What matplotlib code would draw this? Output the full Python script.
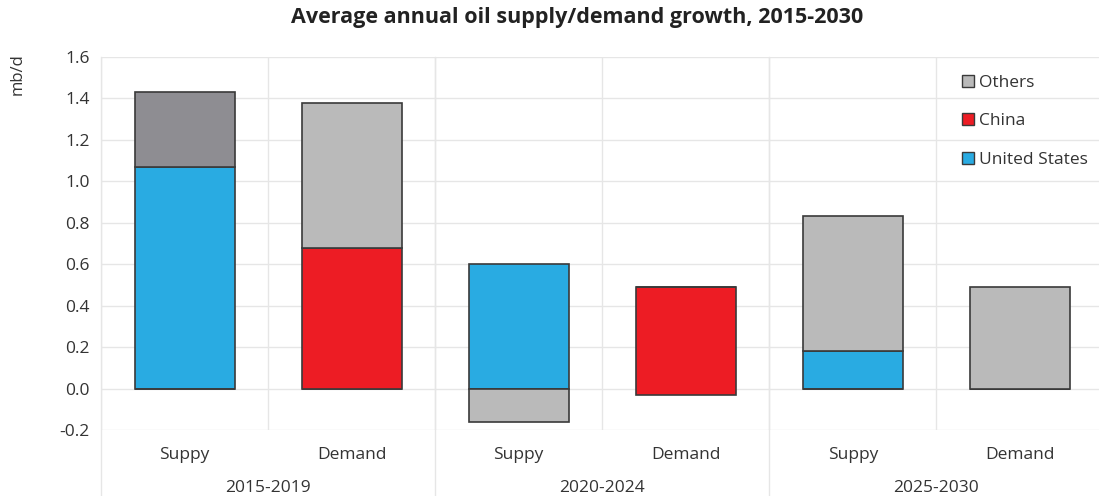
import matplotlib.pyplot as plt
import numpy as np
from matplotlib.lines import Line2D
from matplotlib.patches import Patch

plt.rcParams['font.family'] = ['Open Sans', 'DejaVu Sans']

# values in mb/d
categories = ['Suppy', 'Demand', 'Suppy', 'Demand', 'Suppy', 'Demand']
periods = ['2015-2019', '2020-2024', '2025-2030']
united_states = [1.07, 0.0, 0.60, 0.0, 0.18, 0.0]
china = [0.0, 0.68, 0.0, 0.52, 0.0, 0.0]
china_low = [0.0, 0.0, 0.0, -0.03, 0.0, 0.0]   # China demand bar dips slightly below zero
others = [0.36, 0.70, -0.16, 0.0, 0.655, 0.49]

blue = '#29abe2'
red = '#ed1c24'
grey = '#bababa'
dark_grey = '#8e8d92'
edge = '#3a3a3a'
text_col = '#333333'

fig = plt.figure(figsize=(10.99, 4.96), dpi=100)
ax = fig.add_axes([0.092, 0.133, 0.912, 0.752])

x = np.arange(len(categories))
w = 0.6

us = np.array(united_states)
ch = np.array(china)
oth = np.array(others)
low = np.array(china_low)

ax.bar(x, us, w, color=blue, edgecolor=edge, linewidth=1.2, zorder=3)
ax.bar(x, ch, w, bottom=low, color=red, edgecolor=edge, linewidth=1.2, zorder=3)
pos_base = us + ch + low
others_colors = [dark_grey] + [grey] * (len(categories) - 1)
bottoms = np.where(oth >= 0, pos_base, 0)
ax.bar(x, oth, w, bottom=bottoms, color=others_colors, edgecolor=edge, linewidth=1.2, zorder=3)

ax.set_xlim(-0.5, len(categories) - 0.5)
ax.set_ylim(-0.2, 1.6)
ax.set_yticks(np.arange(-0.2, 1.61, 0.2))
ax.set_yticklabels(['%.1f' % v for v in np.arange(-0.2, 1.61, 0.2)])
ax.set_xticks(x)
ax.set_xticklabels(categories)
ax.set_xticks(np.arange(-0.5, len(categories), 1), minor=True)

ax.tick_params(axis='both', length=0, labelsize=12.5, colors=text_col, pad=8)
ax.tick_params(axis='x', which='both', length=0, pad=12)
ax.grid(axis='y', color='#e6e6e6', linewidth=1, zorder=0)
ax.grid(axis='x', which='minor', color='#e6e6e6', linewidth=1, zorder=0)
ax.grid(axis='x', which='major', visible=False)
for s in ax.spines.values():
    s.set_visible(False)

# group separators running down through the labels
for b in [-0.5, 1.5, 3.5]:
    ax.add_line(Line2D([b, b], [-0.18, 1], transform=ax.get_xaxis_transform(),
                       color='#e6e6e6', linewidth=1, clip_on=False))
for i, p in enumerate(periods):
    ax.text(2 * i + 0.5, -0.155, p, transform=ax.get_xaxis_transform(),
            ha='center', va='center', fontsize=12.5, color=text_col)

ax.set_ylabel('mb/d', fontsize=12, color=text_col, loc='top')
ax.yaxis.set_label_coords(-0.075, 1.01)

fig.suptitle('Average annual oil supply/demand growth, 2015-2030',
             x=0.525, y=0.985, fontsize=15.5, fontweight='bold', color='#222222')

handles = [Patch(facecolor=grey, edgecolor=edge, label='Others'),
           Patch(facecolor=red, edgecolor=edge, label='China'),
           Patch(facecolor=blue, edgecolor=edge, label='United States')]
ax.legend(handles=handles, loc='upper right', bbox_to_anchor=(1.0, 0.995),
          frameon=False, fontsize=12.5, handlelength=0.7, handleheight=0.7,
          handletextpad=0.3, labelspacing=1.3, labelcolor=text_col)

plt.savefig('out.png', dpi=100)
